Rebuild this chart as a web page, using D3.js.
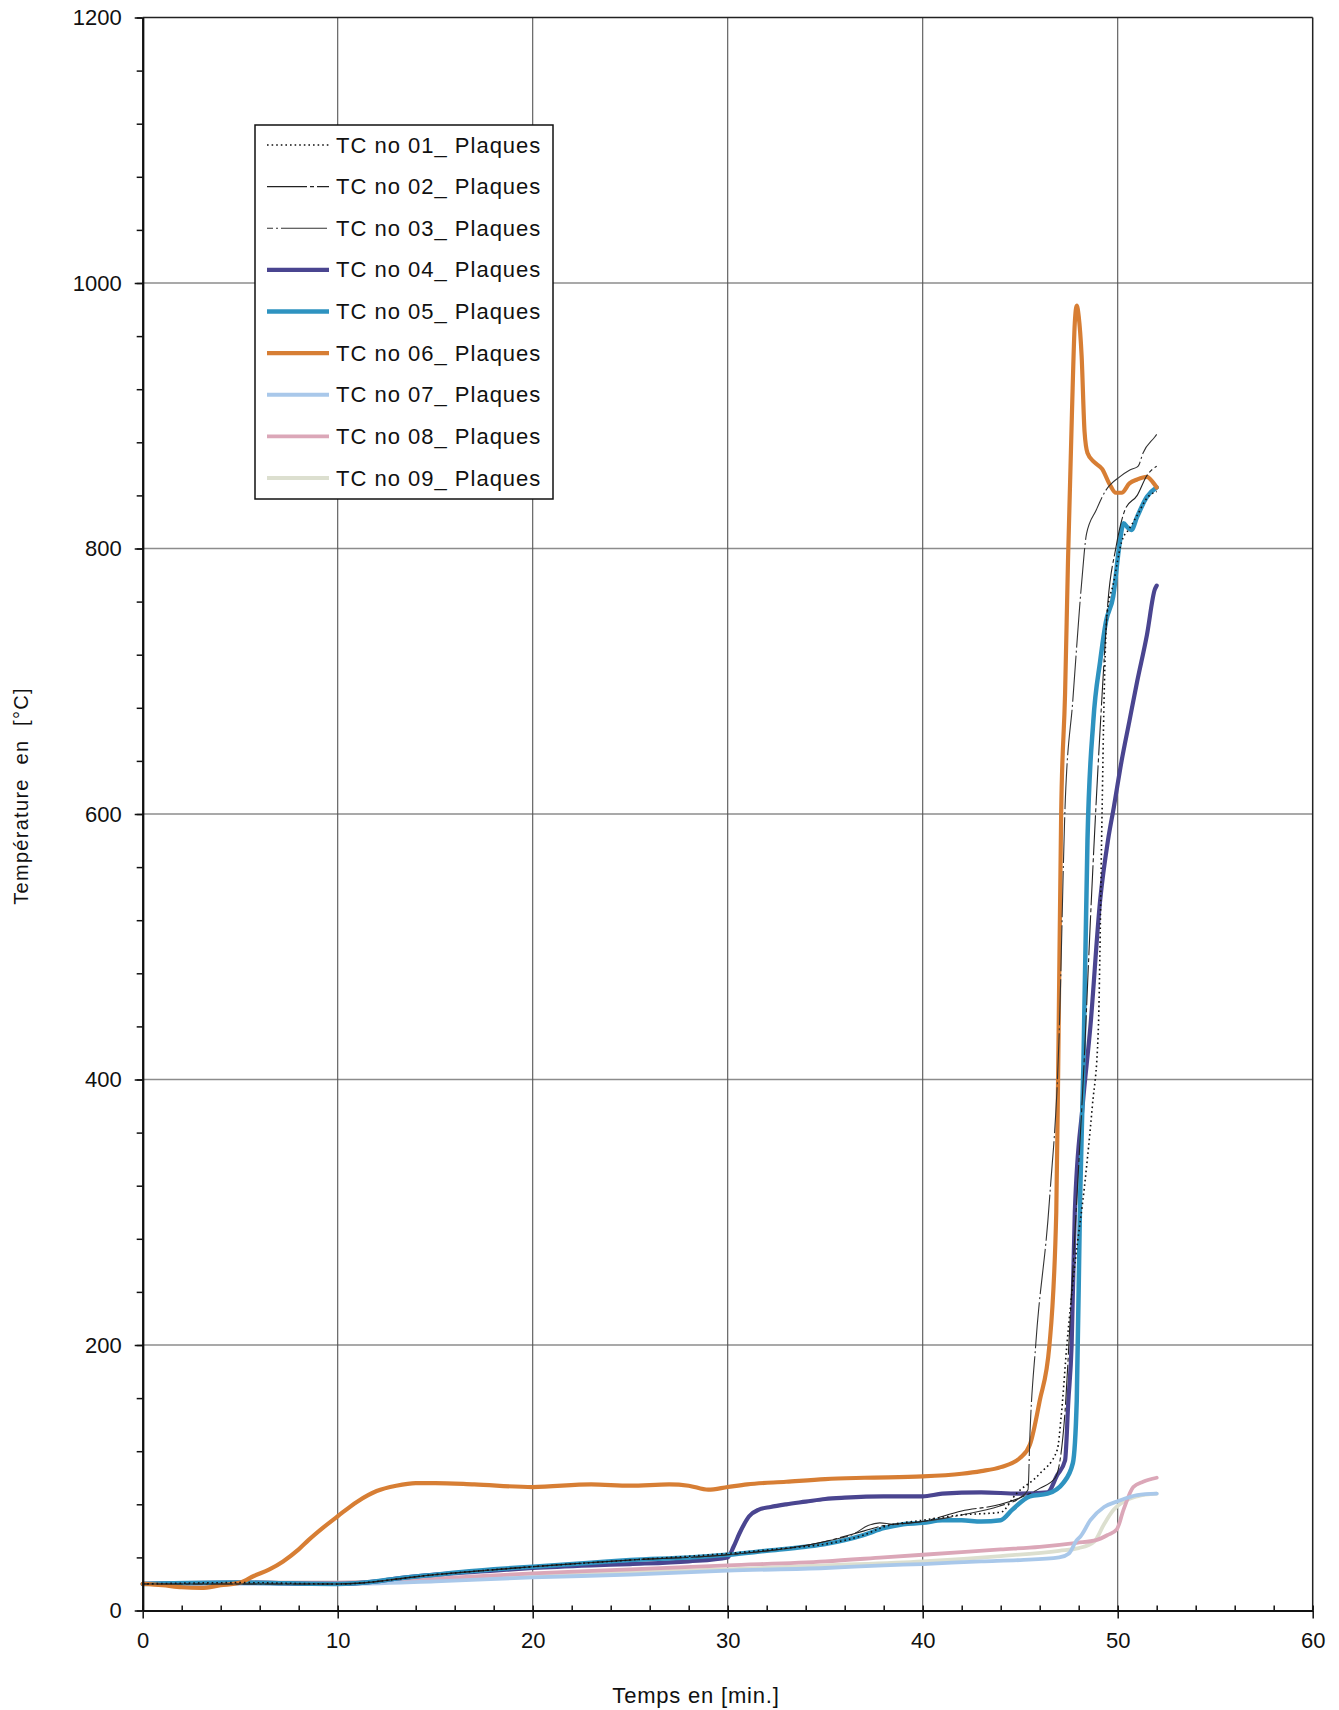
<!DOCTYPE html>
<html>
<head>
<meta charset="utf-8">
<script src="https://cdn.jsdelivr.net/npm/d3@7"></script>
<style>
  body { margin: 0; background: #fff; }
  svg text { font-family: "Liberation Sans", Arial, sans-serif; fill: #111; }
</style>
</head>
<body>
<svg id="chart" width="1339" height="1710"></svg>
<script>
// Axis ticks
const xMajor = [0, 10, 20, 30, 40, 50, 60];
const yMajor = [0, 200, 400, 600, 800, 1000, 1200];

// Series: time [min] and temperature [°C]
const tc01T = [0, 5, 10, 15, 20, 25, 30, 33, 35, 37, 38, 40, 42, 44, 44.8, 46, 46.9, 47.1, 47.4, 47.8, 48.3, 48.7, 49.0, 49.2, 49.3, 49.45, 49.8, 50.2, 50.6, 51, 51.5, 52];
const tc01V = [20, 21, 20, 27, 33, 38, 43, 47, 50, 57, 63, 68, 72, 74, 88, 103, 121, 146, 201, 260, 320, 380, 435, 603, 686, 750, 775, 805, 815, 825, 838, 843];

const tc02T = [0, 10, 15, 20, 25, 30, 35, 37, 38, 40, 42, 44, 45, 46, 46.8, 47.3, 47.6, 47.9, 48.3, 48.6, 48.9, 49.2, 49.5, 49.9, 50.4, 51, 51.5, 52];
const tc02V = [20, 20, 27, 33, 38, 42, 52, 60, 64, 67, 75, 80, 85, 92, 100, 150, 230, 309, 420, 520, 610, 690, 760, 800, 830, 840, 855, 862];

const tc03T = [0, 10, 15, 20, 25, 30, 35, 36.5, 37.2, 37.8, 38.5, 40, 42, 44, 45, 45.4, 45.5, 45.8, 46.5, 47.0, 47.3, 47.7, 48.15, 48.4, 48.9, 49.4, 50.1, 50.6, 51.05, 51.3, 51.9, 52];
const tc03V = [20, 20, 27, 33, 38, 42, 52, 58, 64, 66, 65, 67, 72, 79, 85, 91, 133, 201, 309, 435, 605, 686, 774, 811, 829, 844, 854, 859, 862, 872, 884, 886];

const tc04T = [0, 5, 10, 12, 13, 15, 18, 20, 23, 25, 28, 30, 30.3, 30.6, 31.1, 31.6, 32.2, 33, 34, 35, 36, 38, 40, 41, 43, 45, 46.4, 46.9, 47.3, 47.47, 47.64, 47.8, 48.2, 48.6, 49.1, 49.5, 49.8, 50.2, 50.6, 51.0, 51.5, 51.9, 52];
const tc04V = [20, 21, 20, 22, 24, 27, 30, 32, 34, 35, 37, 40, 48, 58, 71, 76, 78, 80, 82, 84, 85, 86, 86, 88, 89, 88, 89, 102, 113, 158, 201, 300, 380, 440, 535, 580, 605, 640, 670, 700, 735, 769, 772];

const tc05T = [0, 5, 10, 12, 13, 15, 18, 20, 23, 25, 28, 30, 32, 34, 35, 36, 37, 38, 39, 40, 41, 42, 43, 44, 44.6, 45.5, 46.4, 47.2, 47.7, 47.9, 48.07, 48.24, 48.45, 48.75, 49.1, 49.4, 49.77, 50.1, 50.3, 50.5, 50.7, 51, 51.5, 52];
const tc05V = [20, 21, 20, 22, 24, 27, 31, 33, 36, 38, 40, 42, 45, 48, 50, 53, 57, 62, 65, 66, 68, 68, 67, 68, 76, 86, 88, 96, 111, 158, 309, 410, 580, 670, 715, 745, 764, 804, 819, 816, 814, 824, 839, 846];

const tc06T = [0, 1, 2, 3, 4, 5, 5.7, 6.5, 7.2, 8, 8.5, 9.3, 10, 11, 12, 13, 14, 15, 17, 20, 23, 25, 27, 28, 29, 30, 31, 33, 35, 37, 40, 42, 43, 44, 45, 45.5, 46, 46.5, 46.85, 46.95, 47.1, 47.3, 47.45, 47.65, 47.8, 47.9, 48.0, 48.15, 48.3, 48.45, 48.8, 49.2, 49.6, 49.9, 50.2, 50.6, 51.0, 51.5, 51.8, 52];
const tc06V = [20, 19, 17.5, 17, 19, 21, 26, 31, 37, 46, 53, 63, 71, 82, 90, 94, 96, 96, 95, 93, 95, 94, 95, 94, 91, 93, 95, 97, 99, 100, 101, 103, 105, 108, 115, 125, 158, 200, 300, 410, 600, 690, 790, 900, 970, 983, 975, 945, 888, 872, 865, 860, 848, 842, 842, 849, 852, 854, 850, 846];

const tc07T = [0, 5, 10, 15, 20, 25, 30, 35, 38, 40, 43, 45, 47, 47.5, 47.9, 48.1, 48.6, 49.3, 49.95, 51, 52];
const tc07V = [20, 20, 20, 22, 25, 27, 30, 32, 34, 35, 37, 38, 40, 43, 53, 56, 68, 78, 82, 87, 88];

const tc08T = [0, 5, 10, 15, 20, 25, 30, 35, 38, 40, 42, 44, 46, 47.9, 48.9, 49.5, 49.95, 50.3, 50.8, 51.3, 52];
const tc08V = [20, 21, 21, 24, 28, 31, 34, 37, 40, 42, 44, 46, 48, 51, 53, 57, 61, 76, 93, 97, 100];

const tc09T = [0, 5, 10, 15, 20, 25, 30, 35, 40, 44, 47, 48, 48.8, 49.3, 49.8, 50.3, 51, 52];
const tc09V = [20, 21, 21, 23, 26, 29, 31, 34, 37, 41, 45, 47, 52, 65, 76, 82, 86, 88];

const labels = ["TC no 01_ Plaques", "TC no 02_ Plaques", "TC no 03_ Plaques", "TC no 04_ Plaques",
  "TC no 05_ Plaques", "TC no 06_ Plaques", "TC no 07_ Plaques", "TC no 08_ Plaques", "TC no 09_ Plaques"];

const series = [
  {name: labels[0], t: tc01T, v: tc01V, color: "#111", width: 1.6, dash: "1.6,3"},
  {name: labels[1], t: tc02T, v: tc02V, color: "#222", width: 1.1, dash: "40,3,4,3"},
  {name: labels[2], t: tc03T, v: tc03V, color: "#333", width: 1.1, dash: "6,3,2,3,40,0"},
  {name: labels[3], t: tc04T, v: tc04V, color: "#4a4590", width: 4.2, dash: null},
  {name: labels[4], t: tc05T, v: tc05V, color: "#2e93c0", width: 4.5, dash: null},
  {name: labels[5], t: tc06T, v: tc06V, color: "#d77e34", width: 4.2, dash: null},
  {name: labels[6], t: tc07T, v: tc07V, color: "#a9c8ea", width: 3.8, dash: null},
  {name: labels[7], t: tc08T, v: tc08V, color: "#dba7b8", width: 3.8, dash: null},
  {name: labels[8], t: tc09T, v: tc09V, color: "#dcdfcf", width: 3.8, dash: null}
];

const svg = d3.select("#chart");
const plotLeft = 142.7, plotRight = 1312.7, plotTop = 17.5, plotBottom = 1610.5;

const x = d3.scaleLinear().domain([0, 60]).range([plotLeft, plotRight]);
const y = d3.scaleLinear().domain([0, 1200]).range([plotBottom, plotTop]);

// grid
const g = svg.append("g");
g.selectAll(".hgrid")
  .data(yMajor.filter(d => d > 0 && d < 1200))
  .join("line")
  .attr("x1", plotLeft).attr("x2", plotRight)
  .attr("y1", d => y(d)).attr("y2", d => y(d))
  .attr("stroke", "#8c8c8c").attr("stroke-width", 1.3);
g.selectAll(".vgrid")
  .data(xMajor.filter(d => d > 0 && d < 60))
  .join("line")
  .attr("x1", d => x(d)).attr("x2", d => x(d))
  .attr("y1", plotTop).attr("y2", plotBottom)
  .attr("stroke", "#555").attr("stroke-width", 1.1);

// frame top / right
g.append("line").attr("x1", plotLeft).attr("x2", plotRight).attr("y1", plotTop).attr("y2", plotTop)
  .attr("stroke", "#222").attr("stroke-width", 1.5);
g.append("line").attr("x1", plotRight).attr("x2", plotRight).attr("y1", plotTop).attr("y2", plotBottom)
  .attr("stroke", "#222").attr("stroke-width", 1.5);

// series
const line = d3.line()
  .x(d => x(d[0]))
  .y(d => y(d[1]))
  .curve(d3.curveMonotoneX);

const drawOrder = [8, 7, 6, 3, 4, 5, 2, 1, 0];
drawOrder.forEach(i => {
  const s = series[i];
  const pts = s.t.map((t, k) => [t, s.v[k]]);
  svg.append("path")
    .datum(pts)
    .attr("d", line)
    .attr("fill", "none")
    .attr("stroke", s.color)
    .attr("stroke-width", s.width)
    .attr("stroke-linejoin", "round")
    .attr("stroke-linecap", s.dash ? "butt" : "round")
    .attr("stroke-dasharray", s.dash);
});

// axes
const yAxis = svg.append("g").attr("transform", `translate(${plotLeft},0)`)
  .call(d3.axisLeft(y).tickValues(yMajor).tickFormat(d3.format("d")).tickSize(8).tickSizeOuter(0).tickPadding(13));
const yMinor = svg.append("g").attr("transform", `translate(${plotLeft},0)`)
  .call(d3.axisLeft(y).tickValues(d3.range(0, 1201, 40)).tickSize(6).tickSizeOuter(0).tickFormat(""));
const xAxis = svg.append("g").attr("transform", `translate(0,${plotBottom})`)
  .call(d3.axisBottom(x).tickValues(xMajor).tickFormat(d3.format("d")).tickSize(8).tickSizeOuter(0).tickPadding(14));
const xMinor = svg.append("g").attr("transform", `translate(0,${plotBottom})`)
  .call(d3.axisTop(x).tickValues(d3.range(0, 61, 2)).tickSize(5).tickSizeOuter(0).tickFormat(""));

[yAxis, yMinor, xAxis, xMinor].forEach(a => {
  a.select(".domain").attr("stroke", "#111").attr("stroke-width", 2);
  a.selectAll(".tick line").attr("stroke", "#111").attr("stroke-width", 1.5);
  a.selectAll("text").style("font-size", "22px").attr("fill", "#111");
});

// axis titles
svg.append("text")
  .attr("transform", "translate(28,796) rotate(-90)")
  .attr("text-anchor", "middle")
  .style("font-size", "20px")
  .style("letter-spacing", "1.3px")
  .style("white-space", "pre")
  .text("Température  en  [°C]");

svg.append("text")
  .attr("x", 696)
  .attr("y", 1703)
  .attr("text-anchor", "middle")
  .style("font-size", "22px")
  .style("letter-spacing", "0.8px")
  .text("Temps en [min.]");

// legend
const legend = svg.append("g");
legend.append("rect")
  .attr("x", 255).attr("y", 125).attr("width", 298).attr("height", 374)
  .attr("fill", "#fff").attr("stroke", "#111").attr("stroke-width", 1.5);

const rowY = d3.scaleLinear().domain([0, 8]).range([145, 478]);
series.forEach((s, i) => {
  const yy = rowY(i);
  legend.append("line")
    .attr("x1", 267).attr("x2", 329)
    .attr("y1", yy).attr("y2", yy)
    .attr("stroke", s.color)
    .attr("stroke-width", s.width)
    .attr("stroke-dasharray", s.dash);
  legend.append("text")
    .attr("x", 336).attr("y", yy)
    .attr("dominant-baseline", "central")
    .style("font-size", "22px")
    .style("letter-spacing", "1px")
    .text(s.name);
});
</script>
</body>
</html>
